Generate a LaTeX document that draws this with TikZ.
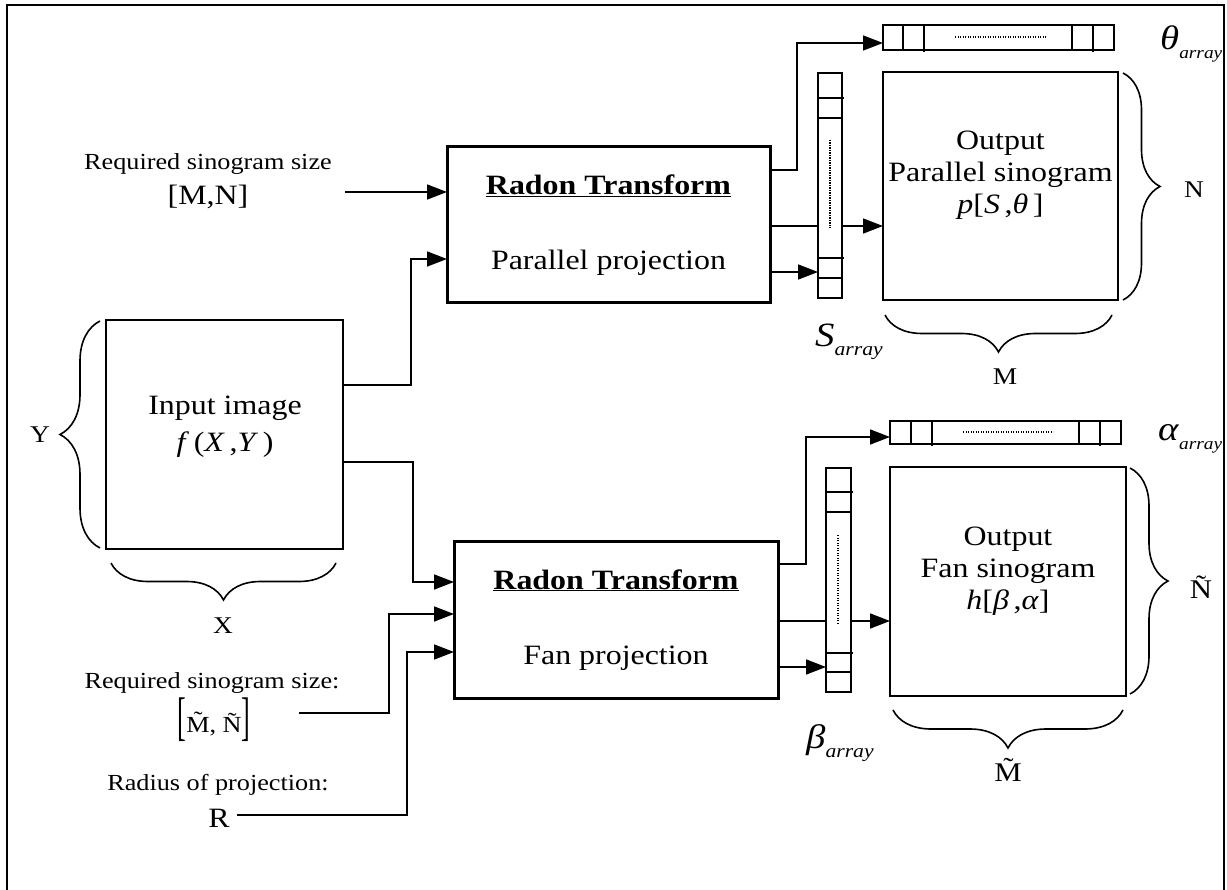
\documentclass[tikz,border=0pt]{standalone}
\usepackage{fontspec}
\setmainfont{Liberation Serif}[FakeStretch=1.14]
\usetikzlibrary{arrows.meta,decorations.pathreplacing,calc}

% symbol with an italic "array" subscript: #1 symbol, #2 subscript size
\newcommand{\subarr}[2]{{\fontsize{34}{34}\selectfont\textit{#1}}{\fontsize{#2}{#2}\selectfont\raisebox{-9pt}{\textit{array}}}}
\newcommand{\tallbr}[1]{\raisebox{-2pt}{\scalebox{1}[2.3]{#1}}}

\begin{document}
\begin{tikzpicture}[x=1pt,y=-1pt,
  blk/.style={draw, line width=3pt, inner sep=0pt, outer sep=0pt},
  outbox/.style={draw, line width=2pt, inner sep=0pt, outer sep=0pt},
  cell/.style={draw, line width=2pt, inner sep=0pt, outer sep=0pt},
  wire/.style={line width=1.6pt},
  conn/.style={wire, -{Triangle[length=20pt,width=15pt]}},
  brc/.style={decorate, decoration={brace, amplitude=#1}, line width=1.6pt},
  dots/.style={line width=1.2pt, dash pattern=on 1.2pt off 1.3pt},
  big/.style={font=\fontsize{28}{32}\selectfont, inner sep=0pt, align=center},
  small/.style={font=\fontsize{23}{27}\selectfont, inner sep=0pt, align=center},
  lbl/.style={font=\fontsize{24}{28}\selectfont, inner sep=0pt},
  tlbl/.style={font=\fontsize{27}{30}\selectfont, inner sep=0pt},
]
\useasboundingbox (0,0) rectangle (1227,890);

% outer frame
\draw[line width=2pt] (7,893) -- (7,5) -- (1224,5) -- (1224,893);

% ---------- input image ----------
\node[outbox, minimum width=237, minimum height=229] (img) at (224.5,434.5) {};
\node[big, anchor=base] (imgt1) at (225,415) {Input image};
\node[big, anchor=base] (imgt2) at (225,452) {\textit{f}\,(\textit{X}\,,\textit{Y}\,)};
\draw[brc=40pt] (100,548) -- (100,321);
\node[lbl] (lblY) at (40,435) {Y};
\draw[brc=37pt] (336,563) -- (111,563);
\node[lbl] (lblX) at (223,626) {X};

% ---------- parallel branch ----------
\node[blk, minimum width=323, minimum height=156] (rad1) at (608.5,225) {};
\node[big, anchor=base] (rad1t) at (608.5,195) {\underline{\textbf{Radon Transform}}};
\node[big, anchor=base] (rad1s) at (608.5,270) {Parallel projection};

\node[small, anchor=base] (reqA) at (208,170) {Required sinogram size};
\node[big, anchor=base] (reqB) at (208,205) {[M,N]};
\coordinate (inMN) at (345,192);

\node[outbox, minimum width=235, minimum height=228] (out1) at (1000.5,186) {};
\node[big, anchor=base] (out1a) at (1000.5,150) {Output};
\node[big, anchor=base] (out1b) at (1000.5,182) {Parallel sinogram};
\node[big, anchor=base] (out1c) at (1000.5,214) {\textit{p}[\textit{S}\,,\textit{θ}\,]};

% theta array
\node[cell, minimum width=231, minimum height=25] (theta) at (998.5,37.5) {};
\draw[line width=2pt] (903,25) -- (903,50) (924,25) -- (924,52)
  (1072,25) -- (1072,50) (1093,25) -- (1093,52);
\draw[dots] (955,37) -- (1046,37);
\node[anchor=base west, inner sep=0pt] (thetal) at (1160,50) {\subarr{θ}{17}};

% S array
\node[cell, minimum width=24, minimum height=225] (sarr) at (830,185.5) {};
\draw[line width=2pt] (818,98) -- (844,98) (818,118) -- (842,118)
  (818,258) -- (844,258) (818,278) -- (842,278);
\draw[dots] (830,140) -- (830,228);
\node[anchor=base west, inner sep=0pt] (sl) at (815,347) {\subarr{S}{19}};

\draw[brc=37pt] (1123,73) -- (1123,300);
\node[lbl] (lblN) at (1194,190) {N};
\draw[brc=37pt] (1112,315) -- (885,315);
\node[lbl] (lblM) at (1005,377) {M};

% parallel connectors
\draw[conn] (inMN) -- (inMN -| rad1.west);
\draw[conn] (img.east |- 0,385) -| (411,259) -- (rad1.west |- 0,259);
\draw[conn] (rad1.east |- 0,170) -| (797,43) -- (theta.west |- 0,43);
\draw[wire] (rad1.east |- 0,226) -- (sarr.west |- 0,226);
\draw[conn] (sarr.east |- 0,226) -- (out1.west |- 0,226);
\draw[conn] (rad1.east |- 0,272) -- (sarr.west |- 0,272);

% ---------- fan branch ----------
\node[blk, minimum width=324, minimum height=157] (rad2) at (616,619.5) {};
\node[big, anchor=base] (rad2t) at (616,589) {\underline{\textbf{Radon Transform}}};
\node[big, anchor=base] (rad2s) at (616,664) {Fan projection};

\node[small, anchor=base] (reqC) at (212,688) {Required sinogram size:};
\node[small, anchor=base] (reqD) at (214,732) {\tallbr{[}M̃, Ñ\tallbr{]}};
\coordinate (inMNt) at (299,713);
\node[small, anchor=base] (radA) at (218,790) {Radius of projection:};
\node[big, anchor=base] (radB) at (219,827) {R};
\coordinate (inR) at (237,815);

\node[outbox, minimum width=236, minimum height=229] (out2) at (1008,581.5) {};
\node[big, anchor=base] (out2a) at (1008,545) {Output};
\node[big, anchor=base] (out2b) at (1008,577) {Fan sinogram};
\node[big, anchor=base] (out2c) at (1008,609) {\textit{h}[\textit{β}\,,\textit{α}]};

% alpha array
\node[cell, minimum width=231, minimum height=23] (alpha) at (1005.5,432.5) {};
\draw[line width=2pt] (911,421) -- (911,444) (932,421) -- (932,446)
  (1079,421) -- (1079,444) (1100,421) -- (1100,446);
\draw[dots] (963,432) -- (1053,432);
\node[anchor=base west, inner sep=0pt] (alphal) at (1158,441) {\subarr{α}{17}};

% beta array
\node[cell, minimum width=25, minimum height=224] (barr) at (838.5,580) {};
\draw[line width=2pt] (826,492) -- (853,492) (826,512) -- (851,512)
  (826,653) -- (853,653) (826,672) -- (851,672);
\draw[dots] (838,535) -- (838,623);
\node[anchor=base west, inner sep=0pt] (bl) at (806,748) {\subarr{β}{19}};

\draw[brc=38pt] (1130,468) -- (1130,694);
\node[tlbl] (lblNt) at (1201,587) {Ñ};
\draw[brc=38pt] (1123,710) -- (893,710);
\node[tlbl] (lblMt) at (1008,770) {M̃};

% fan connectors
\draw[conn] (img.east |- 0,462) -| (413,582) -- (rad2.west |- 0,582);
\draw[conn] (inMNt) -| (389,614) -- (rad2.west |- 0,614);
\draw[conn] (inR) -| (407,652) -- (rad2.west |- 0,652);
\draw[conn] (rad2.east |- 0,564) -| (806,437) -- (alpha.west |- 0,437);
\draw[wire] (rad2.east |- 0,621) -- (barr.west |- 0,621);
\draw[conn] (barr.east |- 0,621) -- (out2.west |- 0,621);
\draw[conn] (rad2.east |- 0,667) -- (barr.west |- 0,667);
\end{tikzpicture}
\end{document}
